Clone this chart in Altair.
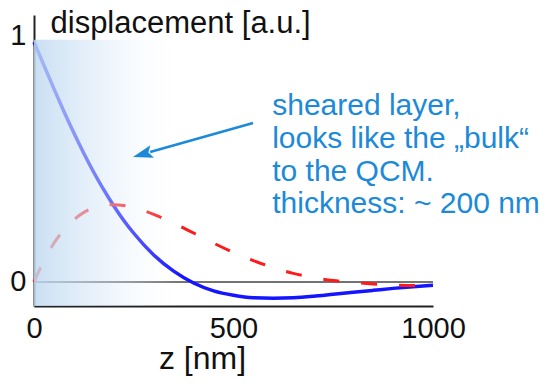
import altair as alt
import pandas as pd

# ---- data ----
z_nm = [0, 25, 50, 75, 100, 125, 150, 175, 200, 225, 250, 300, 350, 400,
        450, 500, 550, 600, 650, 700, 750, 800, 850, 900, 950, 1000]
blue_disp = [0.975, 0.88, 0.785, 0.693, 0.605, 0.522, 0.445, 0.374, 0.309, 0.250,
             0.198, 0.110, 0.044, -0.004, -0.036, -0.054, -0.064, -0.066, -0.064,
             -0.058, -0.050, -0.042, -0.034, -0.026, -0.019, -0.013]
red_disp = [0.0, 0.088, 0.158, 0.212, 0.253, 0.283, 0.302, 0.312, 0.314, 0.311,
            0.303, 0.275, 0.239, 0.199, 0.158, 0.120, 0.087, 0.058, 0.035,
            0.018, 0.006, -0.002, -0.008, -0.012, -0.014, -0.014]

x_ticks = [0, 500, 1000]
y_ticks = [0, 1]
x_domain = [0, 1000]
y_domain = [-0.0976, 1.085]

zero_z = [0, 1000]
shade_z = [0, 370]
shade_v = [-0.0976, 0.984]

arrow_tail = [549, 0.646]
arrow_line_end = [291, 0.528]
arrow_tip = [248, 0.508]
arrow_angle = 254

anno_lines = ["sheared layer,", "looks like the \u201ebulk\u201c", "to the QCM.",
              "thickness: ~ 200 nm"]
anno_z = [597, 597, 597, 597]
anno_v = [0.679, 0.545, 0.411, 0.280]

FONT = "Liberation Sans"
ANNO_BLUE = "#1c8ad8"

# ---- tables ----
curves = pd.DataFrame({"z": z_nm, "blue": blue_disp, "red": red_disp})
zero_df = pd.DataFrame({"z": [zero_z[0]], "z2": [zero_z[1]], "v": [0.0]})
shade_df = pd.DataFrame({"z": [shade_z[0]], "z2": [shade_z[1]],
                         "v": [shade_v[0]], "v2": [shade_v[1]]})
arrow_df = pd.DataFrame({"z": [arrow_tail[0]], "v": [arrow_tail[1]],
                         "z2": [arrow_line_end[0]], "v2": [arrow_line_end[1]]})
head_df = pd.DataFrame({"z": [arrow_tip[0]], "v": [arrow_tip[1]]})
anno_df = pd.DataFrame({"z": anno_z, "v": anno_v, "t": anno_lines})

xs = alt.Scale(domain=x_domain, nice=False, zero=False)
ys = alt.Scale(domain=y_domain, nice=False, zero=False)

x_axis = alt.Axis(values=x_ticks, format="d", title="z [nm]", grid=False, ticks=False,
                  labelFontSize=29, labelPadding=8, labelColor="#111",
                  labelFont=FONT, domainColor="#222", domainWidth=2,
                  titleFont=FONT, titleFontSize=32, titleFontWeight="normal",
                  titleColor="#111", titleX=168, titleY=62, titleAlign="center",
                  titleBaseline="alphabetic", labelFlush=False, labelOverlap=False)
y_axis = alt.Axis(values=y_ticks, format="d", title="displacement [a.u.]", grid=False,
                  ticks=False, labelFontSize=29, labelPadding=8, labelColor="#111",
                  labelFont=FONT, domainColor="#222", domainWidth=2,
                  titleFont=FONT, titleFontSize=31, titleFontWeight="normal",
                  titleColor="#111", titleAngle=0, titleX=16, titleY=17,
                  titleAlign="left", titleBaseline="alphabetic", labelFlush=False,
                  labelOverlap=False)

X = alt.X("z:Q", scale=xs, axis=x_axis)
Y = alt.Y("v:Q", scale=ys, axis=y_axis)

zero_line = alt.Chart(zero_df).mark_rule(color="#444", strokeWidth=1.5).encode(
    x=X, x2="z2:Q", y=Y)

blue_line = alt.Chart(curves).transform_calculate(v="datum.blue").mark_line(
    color="#1414ff", strokeWidth=3.5, interpolate="monotone").encode(x=X, y=Y)

red_line = alt.Chart(curves).transform_calculate(v="datum.red").mark_line(
    color="#ff1a1a", strokeWidth=3, strokeDash=[16, 22],
    interpolate="monotone").encode(x=X, y=Y)

shade = alt.Chart(shade_df).mark_rect(
    fill=alt.LinearGradient(
        gradient="linear", x1=0, x2=1, y1=0, y2=0,
        stops=[alt.GradientStop(offset=0, color="rgba(192,217,240,0.85)"),
               alt.GradientStop(offset=0.5, color="rgba(215,232,248,0.45)"),
               alt.GradientStop(offset=1, color="rgba(255,255,255,0)")]),
    strokeWidth=0).encode(x=X, x2="z2:Q", y=Y, y2="v2:Q")

arrow_line = alt.Chart(arrow_df).mark_rule(color=ANNO_BLUE, strokeWidth=2.5).encode(
    x=X, y=Y, x2="z2:Q", y2="v2:Q")

arrow_head = alt.Chart(head_df).mark_point(
    shape="M0,0L0.65,2L0,1.6L-0.65,2Z", filled=True, size=400,
    angle=arrow_angle, color=ANNO_BLUE, opacity=1, strokeWidth=0).encode(x=X, y=Y)

anno = alt.Chart(anno_df).mark_text(
    align="left", baseline="alphabetic", font=FONT, fontSize=30,
    color=ANNO_BLUE).encode(x=X, y=Y, text="t:N")

chart = alt.layer(zero_line, blue_line, red_line, shade, arrow_line, arrow_head, anno).properties(
    width=399, height=291,
    autosize=alt.AutoSizeParams(type="none"),
    padding={"left": 26, "top": 7, "right": 109, "bottom": 73},
    background="white",
).configure_view(stroke=None)

chart.save("out.html", embed_options={"renderer": "svg", "actions": False})
